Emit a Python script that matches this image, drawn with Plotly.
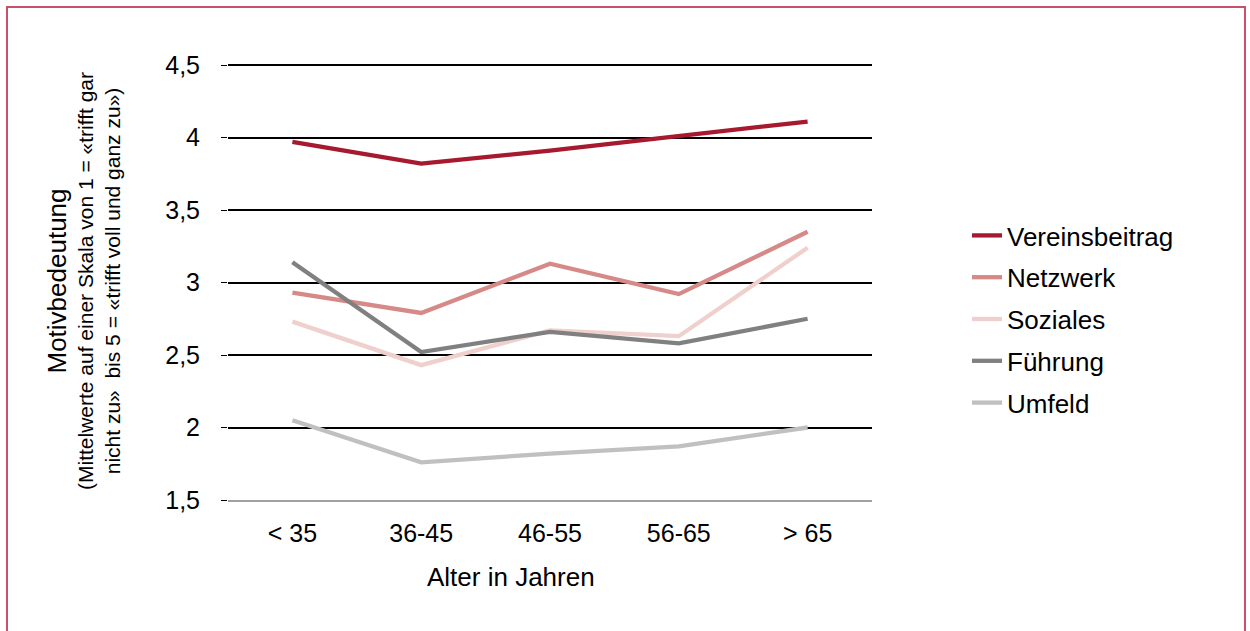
import plotly.graph_objects as go

categories = ["< 35", "36-45", "46-55", "56-65", "> 65"]
series_names = ["Vereinsbeitrag", "Netzwerk", "Soziales", "Führung", "Umfeld"]
vereinsbeitrag = [3.97, 3.82, 3.91, 4.01, 4.11]
netzwerk = [2.93, 2.79, 3.13, 2.92, 3.35]
soziales = [2.73, 2.43, 2.67, 2.63, 3.24]
fuehrung = [3.14, 2.52, 2.66, 2.58, 2.75]
umfeld = [2.05, 1.76, 1.82, 1.87, 2.00]
y_ticks = [1.5, 2, 2.5, 3, 3.5, 4, 4.5]
colors = ["#a6192e", "#d68a88", "#f0d0cc", "#808080", "#c0c0c0"]
x_title = "Alter in Jahren"
y_title = "Motivbedeutung"
y_subtitle = ["(Mittelwerte auf einer Skala von 1 = «trifft gar",
              "nicht zu»  bis 5 = «trifft voll und ganz zu»)"]

all_series = [vereinsbeitrag, netzwerk, soziales, fuehrung, umfeld]

FONT = "Liberation Sans, Arial, sans-serif"

fig = go.Figure()
for name, vals, col in zip(series_names, all_series, colors):
    fig.add_trace(go.Scatter(
        x=categories, y=vals, name=name, mode="lines",
        line=dict(color=col, width=4.3), legendgroup=name,
    ))

W, H = 1250, 631
L, R, T, B = 228, 378, 62, 131
pw, ph = W - L - R, H - T - B
PX_PER_UNIT = 145.0
y_top = 1.5 + ph / PX_PER_UNIT

def px_x(p):
    return (p - L) / pw

def px_y(p):
    return (H - B - p) / ph

fig.update_layout(
    width=W, height=H,
    margin=dict(l=L, r=R, t=T, b=B),
    paper_bgcolor="white", plot_bgcolor="white",
    font=dict(family=FONT, size=25, color="#000000"),
    separators=",.",
    showlegend=True,
    legend=dict(
        x=px_x(967), y=px_y(212), xanchor="left", yanchor="top",
        font=dict(size=26, family=FONT), tracegroupgap=5,
        bgcolor="rgba(0,0,0,0)",
    ),
    xaxis=dict(
        type="category", range=[-0.5, 4.5],
        showgrid=False, zeroline=False,
        showline=True, linecolor="#a0a0a0", linewidth=1.5,
        ticks="", tickfont=dict(size=25, family=FONT), ticklabelstandoff=10,
    ),
    yaxis=dict(
        range=[1.5, y_top], tickvals=y_ticks,
        showgrid=True, gridcolor="#000000", gridwidth=1.5,
        zeroline=False, showline=False,
        ticks="outside", ticklen=6, tickcolor="#000000", tickwidth=1,
        tickfont=dict(size=25, family=FONT), ticklabelstandoff=16,
        title=dict(
            text=f"<span style='font-size:26px'>{y_title}</span><br>{y_subtitle[0]}<br>{y_subtitle[1]}",
            font=dict(size=21, family=FONT), standoff=38,
        ),
    ),
    annotations=[
        dict(text=x_title, xref="paper", yref="paper",
             x=px_x(511), y=px_y(577), xanchor="center", yanchor="middle",
             showarrow=False, font=dict(size=26, family=FONT, color="#000000")),
    ],
    shapes=[
        dict(type="rect", xref="paper", yref="paper",
             x0=px_x(7), x1=px_x(1245), y0=px_y(700), y1=px_y(7),
             line=dict(color="#c8506a", width=2), fillcolor="rgba(0,0,0,0)", layer="below"),
    ],
)

fig.write_html(
    "out.html",
    config={"displayModeBar": False},
    post_script="document.body.style.margin='0';document.body.style.overflow='hidden';",
)
